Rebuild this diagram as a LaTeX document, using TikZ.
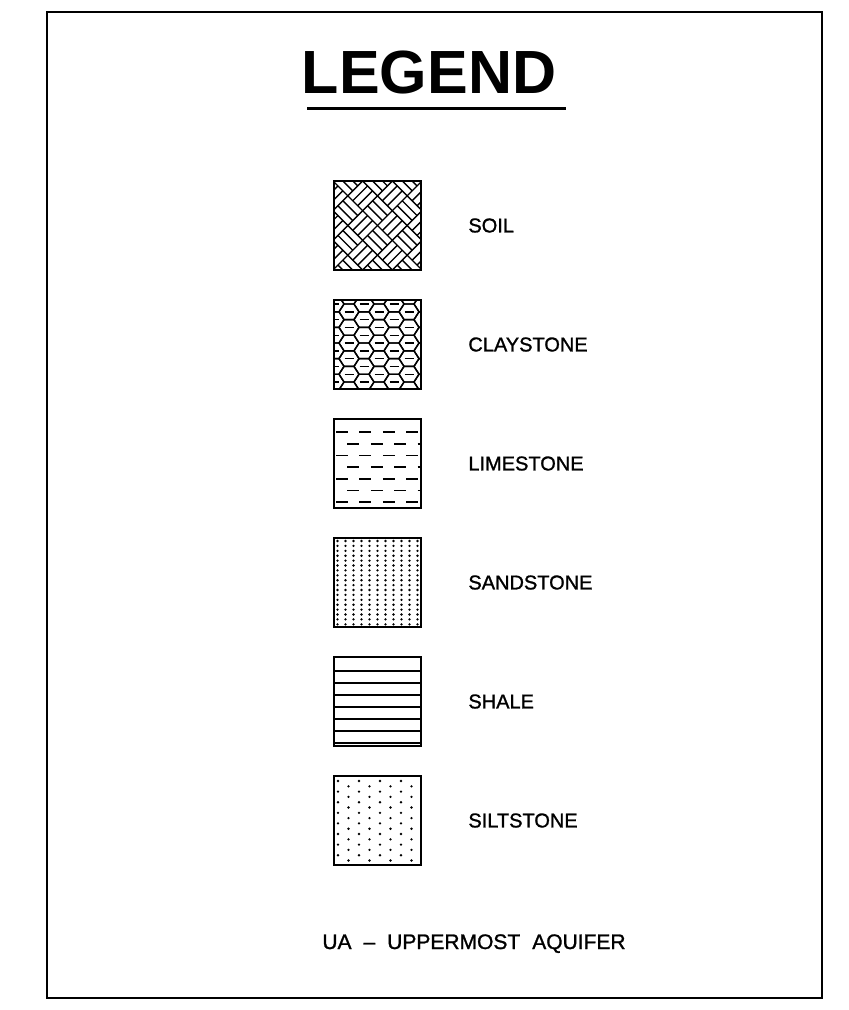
\documentclass[tikz,border=0pt]{standalone}
\usepackage{fontspec}
\setmainfont{Liberation Sans}
\newfontfamily\cadfont[FakeBold=1.2, Ligatures=TeX]{Liberation Sans}
\usetikzlibrary{positioning}

\begin{document}
\begin{tikzpicture}[
    x=1pt, y=-1pt,
    % Define styles
    frame/.style={line width=2pt},
    legbox/.style={draw=none, minimum width=87pt, minimum height=89pt, inner sep=0pt},
    boxedge/.style={line width=2.4pt},
    hatch/.style={line width=1.4pt},
    lbl/.style={font=\cadfont\fontsize{20}{24}\selectfont, inner sep=0pt, anchor=west}
]

% Page and outer frame
\useasboundingbox (0,0) rectangle (849,1010);
\draw[frame] (47,12) rectangle (822,998);

% Title
\node[font=\bfseries\fontsize{61}{70}\selectfont, inner sep=0pt, anchor=base] (title) at (429,93) {LEGEND};
\coordinate (ulA) at (307,108);
\coordinate (ulB) at (566,108);
\draw[line width=3pt] (ulA) -- (ulB);

% Legend boxes
\def\bx{377.5}
\node[legbox] (soil)  at (\bx,225.5) {};
\node[legbox] (clay)  at (\bx,344.5) {};
\node[legbox] (lime)  at (\bx,463.5) {};
\node[legbox] (sand)  at (\bx,582.5) {};
\node[legbox] (shale) at (\bx,701.5) {};
\node[legbox] (silt)  at (\bx,820.5) {};

% Labels
\node[lbl, right=47pt of soil]  (soilT)  {SOIL};
\node[lbl, right=47pt of clay]  (clayT)  {CLAYSTONE};
\node[lbl, right=47pt of lime]  (limeT)  {LIMESTONE};
\node[lbl, right=47pt of sand]  (sandT)  {SANDSTONE};
\node[lbl, right=47pt of shale] (shaleT) {SHALE};
\node[lbl, right=47pt of silt]  (siltT)  {SILTSTONE};

% Soil: basket weave turned 45 degrees
\def\cell{21}
\begin{scope}
  \clip (soil.north west) rectangle (soil.south east);
  \begin{scope}[shift={(soil.center)}, rotate=45]
    \foreach \i in {-4,...,3} {
      \foreach \j in {-4,...,3} {
        \pgfmathtruncatemacro\odd{mod(\i+\j+20,2)}
        \ifnum\odd=0
          \foreach \k in {0,0.3333,0.6667,1}
            \draw[hatch] (\i*\cell,\j*\cell+\k*\cell) -- ++(\cell,0);
        \else
          \foreach \k in {0,0.3333,0.6667,1}
            \draw[hatch] (\i*\cell+\k*\cell,\j*\cell) -- ++(0,\cell);
        \fi
      }
    }
  \end{scope}
\end{scope}

% Claystone: honeycomb (a bit wide) with a dash in each cell
\def\rx{10}
\def\hy{7.8}
\begin{scope}
  \clip (clay.north west) rectangle (clay.south east);
  \foreach \c in {0,...,6} {
    \foreach \m in {-1,...,6} {
      \pgfmathsetmacro\cx{334+1.5*\rx*\c}
      \pgfmathsetmacro\cy{304+2*\hy*(\m+0.5*mod(\c,2))}
      \draw[hatch, shift={(\cx,\cy)}]
        (\rx,0) -- (0.5*\rx,\hy) -- (-0.5*\rx,\hy) -- (-\rx,0)
        -- (-0.5*\rx,-\hy) -- (0.5*\rx,-\hy) -- cycle;
      \draw[hatch, shift={(\cx,\cy)}] (-0.45*\rx,0) -- (0.45*\rx,0);
    }
  }
\end{scope}

% Limestone: staggered dashes
\begin{scope}
  \clip (lime.north west) rectangle (lime.south east);
  \foreach \k in {0,...,6} {
    \pgfmathsetmacro\ly{432+11.7*\k}
    \pgfmathsetmacro\ph{mod(\k,2)*12}
    \draw[hatch, line width=1.6pt, dash pattern=on 11.7pt off 11.7pt, dash phase=\ph pt] (336,\ly) -- (421,\ly);
  }
\end{scope}

% Sandstone: close dots
\begin{scope}
  \clip (sand.north west) rectangle (sand.south east);
  \foreach \c in {0,...,10} {
    \foreach \m in {0,...,17} {
      \fill (337.5+8*\c,541+4.9*\m) circle (1.3);
    }
  }
\end{scope}

% Shale: horizontal beds
\begin{scope}
  \clip (shale.north west) rectangle (shale.south east);
  \foreach \k in {0,...,6}
    \draw[hatch, line width=1.6pt] (334,671+12*\k) -- (421,671+12*\k);
\end{scope}

% Siltstone: sparse staggered dots
\begin{scope}
  \clip (silt.north west) rectangle (silt.south east);
  \foreach \m in {0,...,15} {
    \pgfmathsetmacro\sy{781+5.3*\m}
    \pgfmathsetmacro\sx{338+mod(\m,2)*10.5}
    \foreach \c in {0,...,4}
      \fill (\sx+21*\c,\sy) circle (1.3);
  }
\end{scope}

% Box outlines on top
\foreach \b in {soil,clay,lime,sand,shale,silt}
  \draw[boxedge] (\b.north west) rectangle (\b.south east);

% Note
\node[font=\cadfont\fontsize{21}{24}\selectfont, inner sep=0pt, anchor=base] (note) at (474,949)
  {UA\hspace{12pt}--\hspace{12pt}UPPERMOST\hspace{12pt}AQUIFER};

\end{tikzpicture}
\end{document}
